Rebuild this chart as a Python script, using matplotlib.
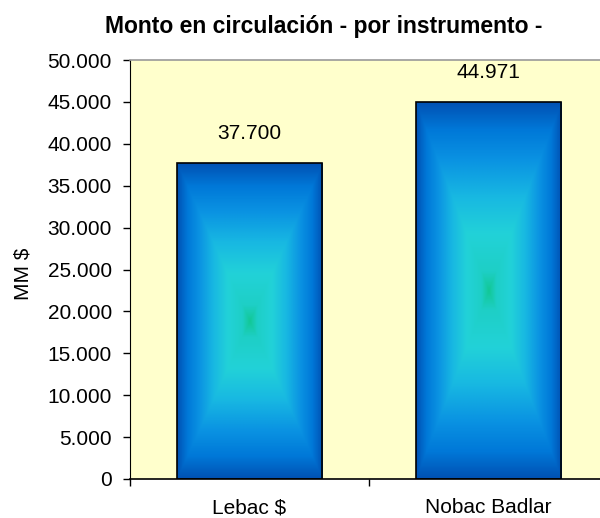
import numpy as np
import matplotlib
matplotlib.use("Agg")
import matplotlib.pyplot as plt
from matplotlib.colors import LinearSegmentedColormap
from matplotlib.ticker import FuncFormatter, FixedLocator

# data
categories = ['Lebac $', 'Nobac Badlar']
values = [37700, 44971]
y_ticks = list(range(0, 50001, 5000))

plt.rcParams['font.family'] = ['Liberation Sans', 'DejaVu Sans']


def miles(v, pos=None):
    return '{:,.0f}'.format(v).replace(',', '.')


# rectangular gradient: green-cyan center -> blue edges
grad = LinearSegmentedColormap.from_list('bar_grad', [
    (0.00, '#12C896'),
    (0.10, '#1ECFC6'),
    (0.30, '#22D2D8'),
    (0.50, '#18B8E2'),
    (0.70, '#0A92E2'),
    (0.86, '#0078D8'),
    (1.00, '#0052B4'),
])

fig = plt.figure(figsize=(6.0, 5.18), dpi=100)
ax = fig.add_axes([130 / 600, 39 / 518, 478 / 600, 419 / 518])
ax.set_facecolor('#FFFFCC')

x = np.arange(len(categories))
bars = ax.bar(x, values, width=0.61, facecolor='none', edgecolor='black',
              linewidth=1.2, zorder=3)

n = 200
gx, gy = np.meshgrid(np.linspace(-1, 1, n), np.linspace(-1, 1, n))
d = np.maximum(np.abs(gx), np.abs(gy))
for b in bars:
    im = ax.imshow(d, cmap=grad, vmin=0, vmax=1, aspect='auto', zorder=2,
                   extent=(b.get_x(), b.get_x() + b.get_width(), 0, b.get_height()),
                   interpolation='bilinear')
    im.set_clip_path(b)

for xi, v in zip(x, values):
    ax.annotate(miles(v), (xi, v), xytext=(0, 21.5), textcoords='offset points',
                ha='center', va='center', fontsize=15)

ax.set_xlim(-0.5, 1.5)
ax.set_ylim(0, 50000)

ax.set_xticks(x)
ax.set_xticklabels(categories, fontsize=15)
ax.xaxis.set_minor_locator(FixedLocator([-0.5, 0.5, 1.5]))
ax.tick_params(axis='x', which='major', length=0, pad=14)
ax.tick_params(axis='x', which='minor', length=5, width=1, color='black')

ax.set_yticks(y_ticks)
ax.yaxis.set_major_formatter(FuncFormatter(miles))
ax.tick_params(axis='y', length=5, width=1, pad=8, labelsize=15, color='black')

ax.set_ylabel('MM $', fontsize=15)
ax.yaxis.set_label_coords(-0.203, 0.49)

ax.spines['left'].set_color('black')
ax.spines['bottom'].set_color('black')
ax.spines['bottom'].set_linewidth(1.2)
ax.spines['top'].set_color('#999999')
ax.spines['top'].set_linewidth(1.2)
ax.spines['right'].set_visible(False)

fig.text(324 / 600, 1 - 33 / 518, 'Monto en circulación - por instrumento -',
         ha='center', va='baseline', fontsize=16.5, fontweight='bold')

plt.savefig('out.png', dpi=100)
